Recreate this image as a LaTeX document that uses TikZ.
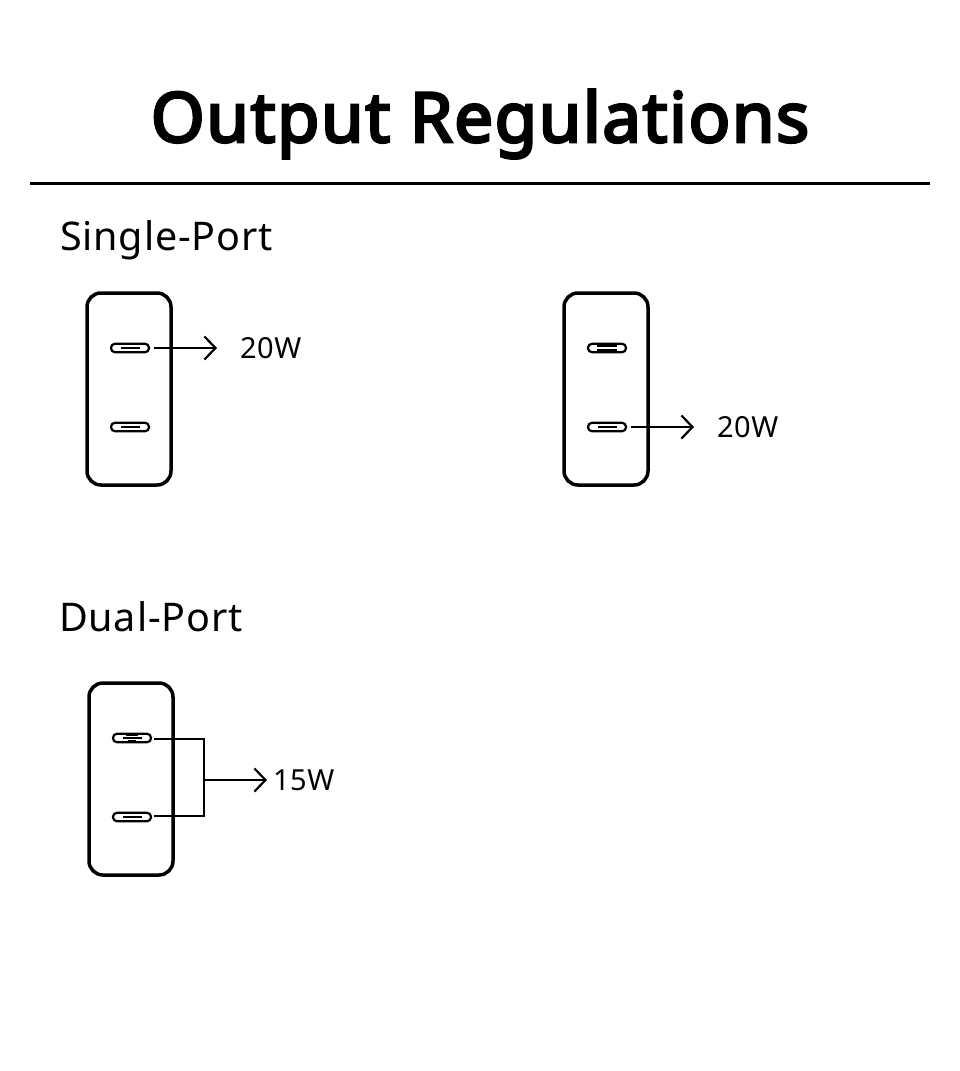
\documentclass[tikz,border=0pt]{standalone}
\usepackage{fontspec}
\setmainfont{Noto Sans}
\newfontfamily\titlebold{Noto Sans}[FakeBold=4,LetterSpace=2.3]
\newfontfamily\headfont{Noto Sans}[LetterSpace=2.2]
\usetikzlibrary{arrows.meta,calc}
\tikzset{
  chargerbody/.style={draw=black,line width=3.5pt,rounded corners=14pt,minimum width=84pt,minimum height=192pt,inner sep=0pt,outer sep=0pt},
  portbox/.style={draw=black,line width=2.2pt,rounded corners=4pt,minimum width=38pt,minimum height=8.5pt,inner sep=0pt,outer sep=0pt},
  tongue/.style={line width=2pt,draw=black},
  link/.style={draw=black,line width=2.2pt},
  outarrow/.style={link,-{Straight Barb[length=11pt,width=23pt,line width=2.2pt]}},
  wattlabel/.style={font=\headfont\fontsize{29}{30}\selectfont,anchor=base west,inner sep=0pt,outer sep=0pt},
  headinglabel/.style={font=\headfont\fontsize{39.5}{41}\selectfont,anchor=base west,inner sep=0pt,outer sep=0pt},
}
\begin{document}
\begin{tikzpicture}[x=1pt,y=-1pt]
\useasboundingbox (0,0) rectangle (960,1071);
\fill[white] (0,0) rectangle (960,1071);
\node[font=\titlebold\fontsize{69}{72}\selectfont,anchor=base,inner sep=0pt] (title) at (480,142) {Output Regulations};
\coordinate (ruleL) at (30,183.5);
\coordinate (ruleR) at (930,183.5);
\draw[black,line width=3pt] (ruleL) -- (ruleR);
\node[headinglabel] (single) at (60,250) {Single-Port};
\node[headinglabel] (dual) at (59,631) {Dual-Port};
% left single-port charger
\node[chargerbody] (c1) at (129,389) {};
\node[portbox] (c1a) at (130,348) {};
\node[portbox] (c1b) at (130,427) {};
\draw[tongue] ($(c1a)+(-9,0)$) -- ($(c1a)+(10,0)$);
\draw[tongue] ($(c1b)+(-9,0)$) -- ($(c1b)+(10,0)$);
\coordinate (e1) at (217,348);
\draw[outarrow] ($(c1a.east)+(5,0)$) -- (e1);
\node[wattlabel] (w1) at (240,358) {20W};
% right single-port charger
\node[chargerbody] (c2) at (606,389) {};
\node[portbox] (c2a) at (607,348) {};
\node[portbox] (c2b) at (607,427) {};
\draw[line width=1.2pt,black] ($(c2a)+(-10,-2)$) -- ($(c2a)+(10,-2)$) ($(c2a)+(-10,2)$) -- ($(c2a)+(10,2)$);
\draw[tongue] ($(c2b)+(-9,0)$) -- ($(c2b)+(10,0)$);
\coordinate (e2) at (694,427);
\draw[outarrow] ($(c2b.east)+(5,0)$) -- (e2);
\node[wattlabel] (w2) at (717,437) {20W};
% dual-port charger
\node[chargerbody] (c3) at (131,779) {};
\node[portbox] (c3a) at (132,738) {};
\node[portbox] (c3b) at (132,817) {};
\draw[tongue] ($(c3a)+(-9,0)$) -- ($(c3a)+(10,0)$);
\draw[line width=1pt,black] ($(c3a)+(-6,-2.5)$) -- ($(c3a)+(6,-2.5)$) ($(c3a)+(-4,2.5)$) -- ($(c3a)+(4,2.5)$);
\draw[tongue] ($(c3b)+(-9,0)$) -- ($(c3b)+(10,0)$);
\coordinate (j) at (204,780);
\coordinate (e3) at (267,780);
\draw[link] ($(c3a.east)+(3,1)$) -| (j) |- ($(c3b.east)+(3,-1)$);
\draw[outarrow] (j) -- (e3);
\node[wattlabel] (w3) at (273,790) {15W};
\end{tikzpicture}
\end{document}
